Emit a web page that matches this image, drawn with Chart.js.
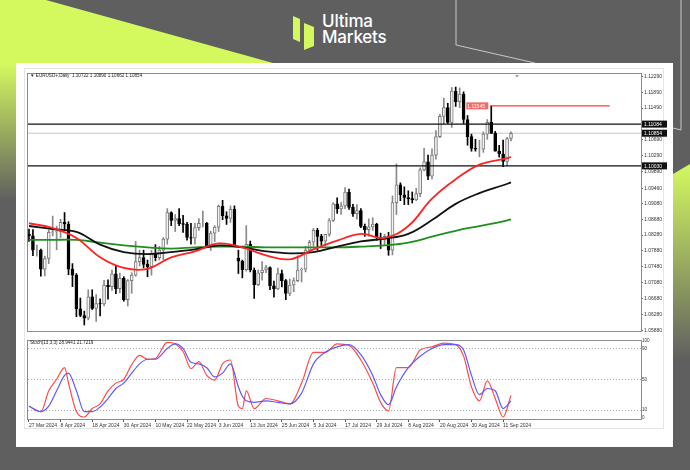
<!DOCTYPE html>
<html>
<head>
<meta charset="utf-8">
<script src="https://cdn.jsdelivr.net/npm/chart.js@4.4.1/dist/chart.umd.min.js"></script>
<style>
  html,body{margin:0;padding:0;}
  body{width:690px;height:470px;position:relative;overflow:hidden;background:#5f5f5f;font-family:"Liberation Sans",Arial,sans-serif;}
  .abs{position:absolute;}
  #panel{left:16px;top:63px;width:657px;height:384px;background:#fff;}
  #inner{left:24px;top:68px;width:640px;height:361px;border:1px solid #e4e4e4;box-sizing:border-box;}
  #logo{left:322px;top:14px;color:#fff;font-family:Inter,"Open Sans",sans-serif;font-weight:500;font-size:17px;line-height:15.5px;letter-spacing:-0.2px;}
  #hdr{left:30px;top:73px;font-size:4.6px;color:#222;white-space:pre;}
  #stl{left:30px;top:340px;font-size:4.6px;color:#222;white-space:pre;}
</style>
</head>
<body>
<svg class="abs" style="left:0;top:0" width="690" height="470">
  <defs>
    <linearGradient id="gl" x1="0" y1="0" x2="0" y2="1">
      <stop offset="0" stop-color="#d4f95f"/><stop offset="1" stop-color="#5f5f5f"/>
    </linearGradient>
    <linearGradient id="gr" x1="0" y1="0" x2="0" y2="1">
      <stop offset="0" stop-color="#d4f95f"/><stop offset="1" stop-color="#5f5f5f"/>
    </linearGradient>
  </defs>
  <polygon points="0,0 46,0 273,63 0,63" fill="#d4f95f"/>
  <polygon points="0,63 16,63 16,200 0,200" fill="url(#gl)"/>
  <polygon points="673,174 690,164 690,360 673,360" fill="url(#gr)"/>
  <polyline points="456,0 456,45 535,63" stroke="#c8c8c8" stroke-width="1" fill="none"/>
  <polyline points="681,0 681,130 673,128" stroke="#c8c8c8" stroke-width="1" fill="none"/>
  <polygon points="293,16 300,19 300,42 293,39" fill="#d4f95f"/>
  <polygon points="304,23 314,27 314,46 304,50" fill="#d4f95f"/>
</svg>
<div id="logo" class="abs">Ultima<br>Markets</div>
<div id="panel" class="abs"></div>
<div id="inner" class="abs"></div>
<canvas id="main" class="abs" style="left:26px;top:70px;" width="651" height="265"></canvas>
<canvas id="stoch" class="abs" style="left:26px;top:337px;" width="651" height="96"></canvas>
<div id="hdr" class="abs">▼ EURUSD+,Daily  1.10722 1.10890 1.10662 1.10854</div>
<div id="stl" class="abs">Stoch(13,3,3) 28.9441 21.7219</div>
<script>
// ---------------- DATA ----------------
const dateTickIdx = [0,8,16,24,32,40,48,56,64,72,80,88,96,104,112,120];
const dateLabels = ["27 Mar 2024","8 Apr 2024","18 Apr 2024","30 Apr 2024","10 May 2024","22 May 2024","3 Jun 2024","13 Jun 2024","25 Jun 2024","5 Jul 2024","17 Jul 2024","29 Jul 2024","8 Aug 2024","20 Aug 2024","30 Aug 2024","11 Sep 2024"];
const priceTicks = [1.12290,1.11890,1.11490,1.10690,1.10290,1.09890,1.09460,1.09080,1.08680,1.08280,1.07880,1.07480,1.07080,1.06680,1.06280,1.05880];

const opens = [1.0830,1.0826,1.0790,1.0790,1.0742,1.0769,1.0835,1.0836,1.0837,1.0860,
1.0856,1.0742,1.0727,1.0642,1.0625,1.0618,1.0672,1.0643,1.0655,1.0654,
1.0702,1.0698,1.0730,1.0693,1.0719,1.0665,1.0713,1.0727,1.0761,1.0771,
1.0754,1.0748,1.0782,1.0771,1.0790,1.0818,1.0885,1.0865,1.0870,1.0857,
1.0855,1.0822,1.0820,1.0847,1.0858,1.0858,1.0801,1.0833,1.0848,1.0901,
1.0877,1.0870,1.0893,1.0770,1.0762,1.0741,1.0805,1.0740,1.0703,1.0733,
1.0740,1.0746,1.0700,1.0692,1.0731,1.0713,1.0681,1.0702,1.0713,1.0740,
1.0742,1.0790,1.0810,1.0840,1.0825,1.0813,1.0830,1.0865,1.0907,1.0894,
1.0902,1.0937,1.0898,1.0882,1.0890,1.0850,1.0842,1.0849,1.0856,1.0822,
1.0816,1.0825,1.0790,1.0910,1.0955,1.0930,1.0923,1.0920,1.0917,1.0933,
1.0993,1.1013,1.0977,1.1030,1.1077,1.1128,1.1150,1.1113,1.1192,1.1165,
1.1184,1.1120,1.1077,1.1047,1.1045,1.1045,1.1083,1.1113,1.1085,1.1040,
1.1033,1.1014,1.10722];
const highs = [1.0843,1.0842,1.0803,1.0793,1.0775,1.0841,1.0876,1.0851,1.0868,1.0885,
1.0862,1.0756,1.0731,1.0669,1.0636,1.0690,1.0690,1.0678,1.0667,1.0714,
1.0715,1.0740,1.0752,1.0732,1.0723,1.0716,1.0733,1.0812,1.0790,1.0790,
1.0765,1.0790,1.0804,1.0800,1.0822,1.0895,1.0887,1.0880,1.0895,1.0878,
1.0860,1.0858,1.0858,1.0870,1.0889,1.0860,1.0838,1.0852,1.0904,1.0916,
1.0887,1.0902,1.0902,1.0790,1.0765,1.0852,1.0813,1.0745,1.0740,1.0761,
1.0752,1.0748,1.0712,1.0745,1.0740,1.0716,1.0717,1.0720,1.0776,1.0745,
1.0800,1.0815,1.0845,1.0845,1.0830,1.0830,1.0870,1.0910,1.0922,1.0910,
1.0948,1.0944,1.0906,1.0905,1.0895,1.0856,1.0869,1.0872,1.0858,1.0833,
1.0830,1.0835,1.0927,1.1008,1.0960,1.0950,1.0940,1.0937,1.0946,1.0998,
1.1047,1.1030,1.1046,1.1092,1.1133,1.1174,1.1161,1.1201,1.1202,1.1200,
1.1190,1.1130,1.1083,1.1070,1.1068,1.1089,1.1120,1.1155,1.1090,1.1055,
1.1068,1.1075,1.10890];
const lows = [1.0812,1.0776,1.0775,1.0724,1.0725,1.0756,1.0826,1.0791,1.0822,1.0840,
1.0728,1.0698,1.0622,1.0622,1.0601,1.0614,1.0640,1.0610,1.0624,1.0649,
1.0666,1.0688,1.0680,1.0682,1.0661,1.0649,1.0681,1.0724,1.0750,1.0745,
1.0723,1.0727,1.0763,1.0765,1.0766,1.0805,1.0852,1.0837,1.0852,1.0835,
1.0815,1.0805,1.0805,1.0840,1.0849,1.0799,1.0789,1.0811,1.0837,1.0867,
1.0855,1.0860,1.0801,1.0731,1.0720,1.0737,1.0735,1.0668,1.0700,1.0714,
1.0733,1.0690,1.0671,1.0690,1.0697,1.0665,1.0675,1.0685,1.0710,1.0710,
1.0735,1.0785,1.0800,1.0790,1.0802,1.0800,1.0825,1.0862,1.0883,1.0880,
1.0895,1.0893,1.0875,1.0868,1.0847,1.0825,1.0825,1.0840,1.0815,1.0794,
1.0802,1.0777,1.0778,1.0880,1.0915,1.0905,1.0905,1.0909,1.0915,1.0925,
1.0990,1.0968,1.0970,1.1020,1.1074,1.1108,1.1110,1.1100,1.1153,1.1150,
1.1110,1.1055,1.1040,1.1040,1.1026,1.1037,1.1070,1.1085,1.1040,1.1025,
1.1001,1.1002,1.10662];
const closes = [1.0826,1.0790,1.0790,1.0742,1.0769,1.0835,1.0836,1.0837,1.0860,1.0856,
1.0742,1.0727,1.0642,1.0625,1.0618,1.0672,1.0643,1.0655,1.0654,1.0702,
1.0698,1.0730,1.0693,1.0719,1.0665,1.0713,1.0727,1.0761,1.0771,1.0754,
1.0748,1.0782,1.0771,1.0790,1.0818,1.0885,1.0865,1.0870,1.0857,1.0855,
1.0822,1.0820,1.0847,1.0858,1.0858,1.0801,1.0833,1.0848,1.0901,1.0877,
1.0870,1.0893,1.0801,1.0762,1.0741,1.0805,1.0740,1.0703,1.0733,1.0740,
1.0746,1.0700,1.0692,1.0731,1.0713,1.0681,1.0702,1.0713,1.0740,1.0742,
1.0790,1.0810,1.0840,1.0825,1.0813,1.0830,1.0865,1.0907,1.0894,1.0902,
1.0937,1.0898,1.0882,1.0890,1.0850,1.0842,1.0849,1.0856,1.0822,1.0816,
1.0825,1.0790,1.0910,1.0955,1.0930,1.0923,1.0920,1.0917,1.0933,1.0993,
1.1013,1.0977,1.1030,1.1077,1.1128,1.1150,1.1113,1.1192,1.1165,1.1184,
1.1120,1.1077,1.1047,1.1045,1.1045,1.1083,1.1113,1.1085,1.1040,1.1033,
1.1014,1.1072,1.10854];

// moving averages, read at sample bars
const maIdx   = [0,6,12,18,24,30,36,42,48,54,60,66,72,78,84,90,96,102,108,114,120,122];
const maRed   = [1.0858,1.0846,1.0821,1.0772,1.0745,1.0743,1.0772,1.0787,1.0807,1.0797,1.0777,1.0767,1.0792,1.0814,1.0831,1.0821,1.0851,1.0920,1.0969,1.1006,1.1020,1.1025];
const maBlack = [1.0851,1.0843,1.0836,1.0804,1.0785,1.0780,1.0785,1.0792,1.0802,1.0797,1.0787,1.0782,1.0785,1.0799,1.0812,1.0819,1.0831,1.0866,1.0907,1.0934,1.0954,1.0961];
const maGreen = [1.0816,1.0816,1.0816,1.0809,1.0802,1.0797,1.0794,1.0797,1.0799,1.0799,1.0797,1.0797,1.0797,1.0797,1.0799,1.0802,1.0809,1.0824,1.0839,1.0851,1.0863,1.0868];

// horizontal levels
const levelBlack = [1.11084, 1.10030];
const levelBid = 1.10854;
const levelRed = 1.11545;
const levelRedFrom = 117, levelRedTo = 147;

// stochastic (13,3,3)
const stochIdx = [0,3,5,7,9,10,12,14,16,18,20,22,24,26,28,30,32,35,37,39,41,43,45,47,49,51,53,54,55,57,60,63,66,69,72,75,78,81,84,87,89,91,93,96,99,102,105,108,110,112,114,116,118,120,122];
const stochK = [15,8,35,50,65,45,8,1,12,18,35,45,50,69,81,76,77,98,96,86,64,73,55,49,70,75,15,12,35,12,25,22,18,45,85,85,96,94,75,45,20,9,65,65,88,92,97,95,80,40,22,48,25,1,29];
const stochD = [15,8,15,35,55,58,35,8,8,14,25,38,45,58,70,76,76,90,96,90,72,70,65,53,58,70,40,28,22,20,22,20,18,32,70,85,92,95,82,55,30,17,40,65,80,90,95,95,88,55,30,38,35,12,22];
const stochTicks = [100,90,50,10,0];
const stochLevels = [90,50,10];

// ---------------- CHARTS ----------------
const X_MIN = -0.25, X_MAX = 154.9;
const AXIS_W = 36;
const FONT = 'Liberation Sans';

const bars = opens.map((o,i)=>i);
const isBull = bars.map(i => closes[i] >= opens[i]);

const framePlugin = {
  id:'frame',
  afterDraw(chart){
    const {ctx, chartArea:a} = chart;
    ctx.save();
    ctx.strokeStyle = '#8c8c8c';
    ctx.lineWidth = 1;
    ctx.strokeRect(Math.round(a.left)-0.5, Math.round(a.top)-0.5, Math.round(a.right-a.left)+1, Math.round(a.bottom-a.top)+1);
    ctx.restore();
  }
};

const boxPlugin = {
  id:'boxes',
  afterDraw(chart){
    const {ctx, chartArea:a, scales:{x, y}} = chart;
    ctx.save();
    ctx.font = '5px "'+FONT+'"';
    ctx.textBaseline = 'middle';
    [levelBlack[0], levelBid, levelBlack[1]].forEach(v=>{
      const py = y.getPixelForValue(v);
      ctx.fillStyle = '#111';
      ctx.fillRect(a.right+1, py-3.5, 25, 7);
      ctx.fillStyle = '#fff';
      ctx.fillText(v.toFixed(5), a.right+3, py+0.3);
    });
    // red level label
    const px = x.getPixelForValue(levelRedFrom);
    const py = y.getPixelForValue(levelRed);
    ctx.fillStyle = '#f36a6a';
    ctx.fillRect(px-25, py-3.5, 22, 7);
    ctx.fillStyle = '#fff';
    ctx.fillText(levelRed.toFixed(5), px-24, py+0.3);
    // shift marker
    const sx = x.getPixelForValue(122) + 6;
    ctx.fillStyle = '#999';
    ctx.beginPath(); ctx.moveTo(sx-2, a.top+1); ctx.lineTo(sx+2, a.top+1); ctx.lineTo(sx, a.top+3.5); ctx.fill();
    ctx.restore();
  }
};

const hLine = (v, from, to, color, w, order) => ({
  type:'line', data:[{x:from,y:v},{x:to,y:v}], borderColor:color, borderWidth:w,
  pointRadius:0, order:order
});

new Chart(document.getElementById('main'), {
  type:'bar',
  data:{ datasets:[
    { type:'bar', data: bars.map(i=>({x:i, y:[lows[i], highs[i]]})),
      backgroundColor: bars.map(i=> isBull[i] ? '#8a8a8a' : '#000'),
      barThickness:1, grouped:false, order:6 },
    { type:'bar', data: bars.map(i=>({x:i, y:[opens[i], closes[i]]})),
      backgroundColor: bars.map(i=> isBull[i] ? '#f2f2f2' : '#000'),
      borderColor: bars.map(i=> isBull[i] ? '#7a7a7a' : '#000'),
      borderWidth:1, borderSkipped:false, barThickness:3, grouped:false, order:5 },
    hLine(levelBid, X_MIN, X_MAX, '#d9d9d9', 1.5, 7),
    hLine(levelBlack[0], X_MIN, X_MAX, '#111', 1.2, 4),
    hLine(levelBlack[1], X_MIN, X_MAX, '#111', 1.2, 4),
    hLine(levelRed, levelRedFrom, levelRedTo, '#ff3b3b', 1.2, 4),
    { type:'line', data: maIdx.map((i,k)=>({x:i,y:maGreen[k]})), borderColor:'#1f8f1f', borderWidth:1.8, pointRadius:0, tension:0.4, order:3 },
    { type:'line', data: maIdx.map((i,k)=>({x:i,y:maBlack[k]})), borderColor:'#111', borderWidth:1.8, pointRadius:0, tension:0.4, order:2 },
    { type:'line', data: maIdx.map((i,k)=>({x:i,y:maRed[k]})), borderColor:'#ff2424', borderWidth:1.8, pointRadius:0, tension:0.4, order:1 }
  ]},
  options:{
    responsive:false, animation:false, maintainAspectRatio:false,
    layout:{padding:{left:2, top:2, right:0, bottom:0}},
    plugins:{legend:{display:false}, tooltip:{enabled:false}},
    scales:{
      x:{type:'linear', min:X_MIN, max:X_MAX, display:false, offset:false},
      y:{position:'right', min:1.05858, max:1.12350,
         afterFit(s){ s.width = AXIS_W; },
         afterBuildTicks(s){ s.ticks = priceTicks.map(v=>({value:v})); },
         ticks:{font:{size:5, family:FONT}, color:'#333', padding:1, autoSkip:false, callback:v=>v.toFixed(5)},
         grid:{drawOnChartArea:false, drawTicks:true, tickLength:2, color:'#666'},
         border:{display:false}}
    }
  },
  plugins:[framePlugin, boxPlugin]
});

new Chart(document.getElementById('stoch'), {
  type:'line',
  data:{ datasets:[
    { data: stochIdx.map((i,k)=>({x:i,y:stochD[k]})), borderColor:'#5b5bff', borderWidth:1.2, pointRadius:0, cubicInterpolationMode:'monotone' },
    { data: stochIdx.map((i,k)=>({x:i,y:stochK[k]})), borderColor:'#ff4a4a', borderWidth:1.2, pointRadius:0, cubicInterpolationMode:'monotone' }
  ]},
  options:{
    responsive:false, animation:false, maintainAspectRatio:false,
    layout:{padding:{left:2, top:2, right:0, bottom:0}},
    plugins:{legend:{display:false}, tooltip:{enabled:false}},
    scales:{
      x:{type:'linear', min:X_MIN, max:X_MAX, position:'bottom',
         afterFit(s){ s.height = 14; },
         afterBuildTicks(s){ s.ticks = dateTickIdx.map(v=>({value:v})); },
         ticks:{font:{size:5, family:FONT}, color:'#333', align:'start', maxRotation:0, autoSkip:false, padding:1,
                callback:(v)=>{ const k = dateTickIdx.indexOf(v); return k>=0 ? dateLabels[k] : ''; }},
         grid:{drawOnChartArea:false, drawTicks:true, tickLength:3, color:'#555'},
         border:{display:false}},
      y:{position:'right', min:-1.6, max:100,
         afterFit(s){ s.width = AXIS_W; },
         afterBuildTicks(s){ s.ticks = stochTicks.map(v=>({value:v})); },
         ticks:{font:{size:4.6, family:FONT}, color:'#333', padding:1, autoSkip:false},
         grid:{drawOnChartArea:true, drawTicks:false, color:(c)=> stochLevels.includes(c.tick && c.tick.value) ? '#a9b0b8' : 'rgba(0,0,0,0)', lineWidth:1},
         border:{display:false, dash:[1,2]}}
    }
  },
  plugins:[framePlugin]
});
</script>
</body>
</html>
